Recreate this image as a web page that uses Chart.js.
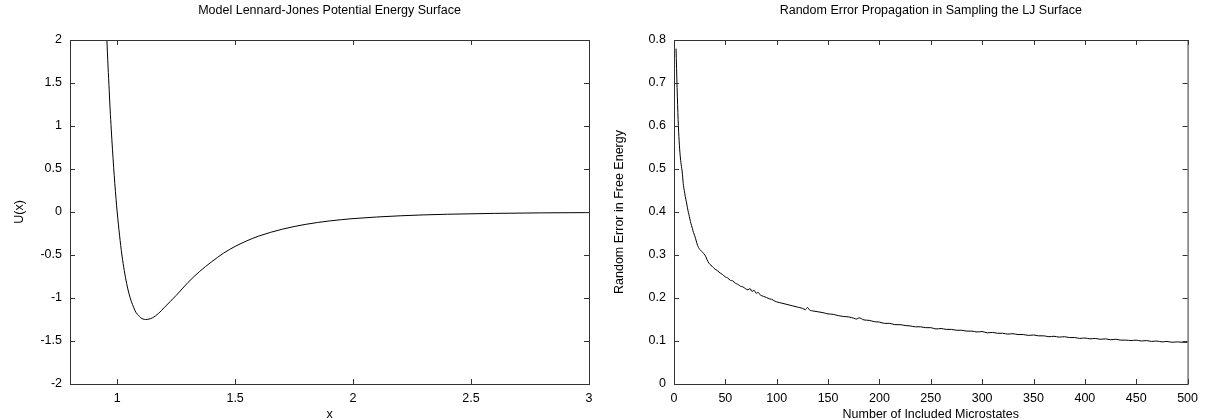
<!DOCTYPE html>
<html>
<head>
<meta charset="utf-8">
<script src="https://cdn.jsdelivr.net/npm/chart.js@4.4.0/dist/chart.umd.min.js"></script>
<style>
body { margin: 0; background: #fff; }
#wrap { position: relative; width: 1205px; height: 420px; }
#left { position: absolute; left: 0; top: 0; }
#right { position: absolute; left: 600px; top: 0; }
</style>
</head>
<body>
<div id="wrap">
    <canvas id="left" width="600" height="420"></canvas>
    <canvas id="right" width="605" height="420"></canvas>
</div>
<script>
// Left panel: potential curve
const ljX = [0.95, 0.955, 0.96, 0.965, 0.97, 0.975, 0.98, 0.985, 0.99, 0.995,
    1.0, 1.01, 1.02, 1.03, 1.04, 1.05, 1.06, 1.07, 1.08, 1.09,
    1.10, 1.12, 1.13, 1.15, 1.175, 1.2, 1.25, 1.3, 1.35, 1.4,
    1.45, 1.5, 1.55, 1.6, 1.7, 1.8, 1.9, 2.0, 2.2, 2.4,
    2.6, 2.8, 3.0];
const ljU = [2.45, 2.10, 1.77, 1.48, 1.20, 0.955, 0.73, 0.52, 0.33, 0.157,
    0, -0.27, -0.50, -0.68, -0.83, -0.95, -1.04, -1.11, -1.17, -1.20,
    -1.23, -1.25, -1.248, -1.23, -1.18, -1.11, -0.97, -0.82, -0.69, -0.58,
    -0.48, -0.40, -0.335, -0.28, -0.20, -0.143, -0.104, -0.077, -0.044, -0.026,
    -0.016, -0.010, -0.007];
const ljXTicks = [1, 1.5, 2, 2.5, 3];
const ljYTicks = [-2, -1.5, -1, -0.5, 0, 0.5, 1, 1.5, 2];

// Right panel: random error vs number of microstates
const microstates = [2, 3, 4, 5, 6, 7, 8, 9, 10, 11,
    12, 13, 14, 15, 16, 17, 18, 19, 20, 21,
    22, 23, 24, 25, 26, 27, 28, 29, 30, 31,
    32, 33, 34, 35, 37, 40, 42, 45, 47, 50,
    52, 55, 57, 60, 62, 65, 67, 70, 72, 74,
    76, 78, 80, 82, 84, 87, 90, 93, 95, 98,
    100, 105, 110, 115, 120, 125, 128, 130, 132, 135,
    140, 145, 150, 155, 160, 165, 170, 175, 178, 180,
    185, 190, 195, 200, 205, 210, 215, 220, 225, 230,
    235, 240, 245, 250, 255, 260, 265, 270, 275, 280,
    285, 290, 295, 300, 305, 310, 315, 320, 325, 330,
    335, 340, 345, 350, 355, 360, 365, 370, 375, 380,
    385, 390, 395, 400, 405, 410, 415, 420, 425, 430,
    435, 440, 445, 450, 455, 460, 465, 470, 475, 480,
    485, 490, 495, 500];
const randomError = [0.780, 0.690, 0.615, 0.565, 0.532, 0.510, 0.493, 0.466, 0.450, 0.436,
    0.424, 0.411, 0.399, 0.389, 0.378, 0.369, 0.361, 0.352, 0.346, 0.338,
    0.330, 0.322, 0.317, 0.313, 0.311, 0.308, 0.306, 0.303, 0.300, 0.296,
    0.290, 0.285, 0.281, 0.278, 0.274, 0.267, 0.264, 0.258, 0.255, 0.249,
    0.247, 0.241, 0.240, 0.234, 0.232, 0.227, 0.226, 0.221, 0.219, 0.222,
    0.215, 0.218, 0.211, 0.213, 0.207, 0.204, 0.201, 0.198, 0.197, 0.193,
    0.191, 0.188, 0.185, 0.182, 0.179, 0.176, 0.173, 0.178, 0.172, 0.170,
    0.168, 0.166, 0.163, 0.162, 0.159, 0.157, 0.156, 0.153, 0.151, 0.154,
    0.149, 0.148, 0.145, 0.144, 0.141, 0.141, 0.138, 0.138, 0.136, 0.135,
    0.133, 0.133, 0.131, 0.131, 0.128, 0.129, 0.127, 0.127, 0.125, 0.125,
    0.123, 0.123, 0.121, 0.122, 0.119, 0.120, 0.118, 0.118, 0.116, 0.117,
    0.115, 0.115, 0.113, 0.114, 0.112, 0.112, 0.110, 0.111, 0.109, 0.110,
    0.108, 0.108, 0.106, 0.107, 0.105, 0.106, 0.104, 0.105, 0.103, 0.104,
    0.102, 0.102, 0.101, 0.102, 0.100, 0.101, 0.099, 0.100, 0.098, 0.099,
    0.097, 0.098, 0.097, 0.097];
const errXTicks = [0, 50, 100, 150, 200, 250, 300, 350, 400, 450, 500];
const errYTicks = [0, 0.1, 0.2, 0.3, 0.4, 0.5, 0.6, 0.7, 0.8];

const FONT = { family: "'Liberation Sans', Arial, sans-serif", size: 12.5, weight: "normal" };

// gnuplot style box with inward ticks on all four sides
const framePlugin = {
    id: "frame",
    afterDatasetsDraw(chart) {
        const { ctx, chartArea: a, scales } = chart;
        ctx.save();
        ctx.strokeStyle = "#333";
        ctx.lineWidth = 1;
        ctx.beginPath();
        scales.x.ticks.forEach((t) => {
            const px = Math.round(scales.x.getPixelForValue(t.value)) + 0.5;
            ctx.moveTo(px, a.bottom);
            ctx.lineTo(px, a.bottom - 5);
            ctx.moveTo(px, a.top);
            ctx.lineTo(px, a.top + 5);
        });
        scales.y.ticks.forEach((t) => {
            const py = Math.round(scales.y.getPixelForValue(t.value)) + 0.5;
            ctx.moveTo(a.left, py);
            ctx.lineTo(a.left + 5, py);
            ctx.moveTo(a.right, py);
            ctx.lineTo(a.right - 5, py);
        });
        ctx.stroke();
        ctx.strokeRect(a.left + 0.5, a.top + 0.5, a.right - a.left, a.bottom - a.top);
        ctx.restore();
    },
};

function makeChart(id, p) {
    const points = p.xs.map((x, i) => ({ x: x, y: p.ys[i] }));
    return new Chart(document.getElementById(id), {
        type: "line",
        data: {
            datasets: [{
                data: points,
                borderColor: "#000",
                borderWidth: 1,
                pointRadius: 0,
                fill: false,
                cubicInterpolationMode: "monotone",
            }],
        },
        options: {
            responsive: false,
            animation: false,
            devicePixelRatio: 1,
            layout: { padding: { left: 0, right: p.padRight, top: 0, bottom: 0 } },
            plugins: {
                legend: { display: false },
                tooltip: { enabled: false },
                title: {
                    display: true,
                    text: p.title,
                    fullSize: false,
                    color: "#000",
                    font: FONT,
                    padding: { top: 3, bottom: 22 },
                },
            },
            scales: {
                x: {
                    type: "linear",
                    min: p.xMin,
                    max: p.xMax,
                    grid: { display: false, drawTicks: false },
                    border: { display: false },
                    afterBuildTicks: (s) => { s.ticks = p.xTicks.map((v) => ({ value: v })); },
                    afterFit: (s) => { s.height = 36; },
                    ticks: {
                        autoSkip: false,
                        maxRotation: 0,
                        padding: 7,
                        color: "#000",
                        font: FONT,
                        callback: (v) => String(v),
                    },
                    title: {
                        display: true,
                        text: p.xTitle,
                        color: "#000",
                        font: FONT,
                        padding: { top: 0, bottom: -2.5 },
                    },
                },
                y: {
                    min: p.yMin,
                    max: p.yMax,
                    grid: { display: false, drawTicks: false },
                    border: { display: false },
                    afterBuildTicks: (s) => { s.ticks = p.yTicks.map((v) => ({ value: v })); },
                    afterFit: (s) => { s.width = p.yWidth; },
                    ticks: {
                        autoSkip: false,
                        padding: 8,
                        color: "#000",
                        font: FONT,
                        callback: (v) => String(v),
                    },
                    title: {
                        display: true,
                        text: p.yTitle,
                        color: "#000",
                        font: FONT,
                        padding: { top: 12, bottom: 0 },
                    },
                },
            },
        },
        plugins: [framePlugin],
    });
}

makeChart("left", {
    xs: ljX, ys: ljU,
    title: "Model Lennard-Jones Potential Energy Surface",
    xTitle: "x", yTitle: "U(x)",
    xMin: 0.8, xMax: 3, yMin: -2, yMax: 2,
    xTicks: ljXTicks, yTicks: ljYTicks,
    yWidth: 70, padRight: 11,
});

makeChart("right", {
    xs: microstates, ys: randomError,
    title: "Random Error Propagation in Sampling the LJ Surface",
    xTitle: "Number of Included Microstates", yTitle: "Random Error in Free Energy",
    xMin: 0, xMax: 500, yMin: 0, yMax: 0.8,
    xTicks: errXTicks, yTicks: errYTicks,
    yWidth: 74, padRight: 12,
});
</script>
</body>
</html>
